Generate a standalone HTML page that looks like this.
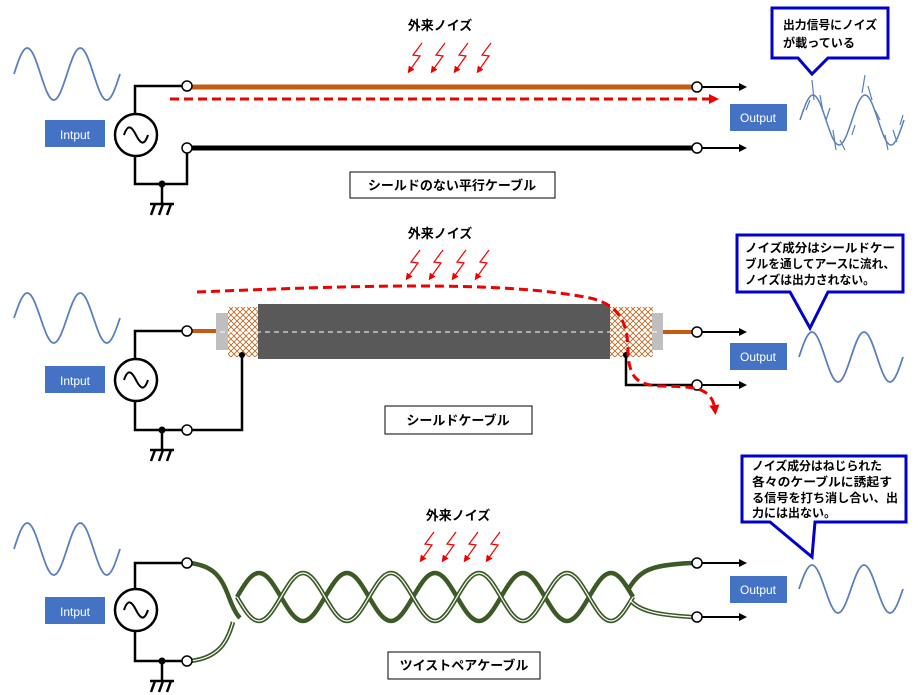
<!DOCTYPE html>
<html><head><meta charset="utf-8"><style>
body{margin:0;background:#fff;width:924px;height:695px;overflow:hidden}
svg{display:block}
text{font-family:"Liberation Sans","Noto Sans CJK JP",sans-serif}
.jp{font-size:13px;font-weight:bold;fill:#000}
.cj{font-size:12px;font-weight:bold;fill:#000}
</style></head><body>
<svg width="924" height="695" viewBox="0 0 924 695" xmlns="http://www.w3.org/2000/svg">
<defs>
<path id="sin" vector-effect="non-scaling-stroke" d="M0,0 C8.35,-26.25 16,-50 25,-50 S41.65,-26.25 50,0 S66,50 75,50 S91.65,26.25 100,0 S116,-50 125,-50 S141.65,-26.25 150,0 S166,50 175,50 S191.65,26.25 200,0"/>
<path id="sin5" vector-effect="non-scaling-stroke" d="M0,0 C8.35,-26.25 16,-50 25,-50 S41.65,-26.25 50,0 S66,50 75,50 S91.65,26.25 100,0 S116,-50 125,-50 S141.65,-26.25 150,0 S166,50 175,50 S191.65,26.25 200,0 S216,-50 225,-50 S241.65,-26.25 250,0 S266,50 275,50 S291.65,26.25 300,0 S316,-50 325,-50 S341.65,-26.25 350,0 S366,50 375,50 S391.65,26.25 400,0 S416,-50 425,-50 S441.65,-26.25 450,0"/>
<marker id="ah" markerWidth="8" markerHeight="8" refX="6" refY="4" orient="auto" markerUnits="userSpaceOnUse"><path d="M0,0 L8,4 L0,8 z" fill="#000"/></marker>
<marker id="rh" markerWidth="10" markerHeight="10" refX="5" refY="5" orient="auto" markerUnits="userSpaceOnUse"><path d="M0,0 L10,5 L0,10 z" fill="#e00"/></marker>
<marker id="bh" markerWidth="7" markerHeight="7" refX="3" refY="3.5" orient="auto" markerUnits="userSpaceOnUse"><path d="M0,0 L7,3.5 L0,7 z" fill="#e00"/></marker>
<pattern id="hatch" width="6" height="6" patternUnits="userSpaceOnUse"><rect width="6" height="6" fill="#fff"/><path d="M0,0 L6,6 M6,0 L0,6" stroke="#b5651d" stroke-width="0.8"/></pattern>
<g id="bolt"><polyline points="12,0 3,12 10,13 0,27" fill="none" stroke="#e00" stroke-width="1.2" marker-end="url(#bh)"/></g>
<g id="src">
<circle cx="136" cy="0" r="21" fill="#fff" stroke="#000" stroke-width="2.5"/>
<path d="M124,0 C128,-12 132,-8 136,0 S144,12 148,0" fill="none" stroke="#000" stroke-width="2"/>
</g>
<g id="gnd" stroke="#000" stroke-width="2.5" fill="none">
<line x1="162" y1="0" x2="162" y2="20"/>
<line x1="150" y1="20" x2="174" y2="20"/>
<line x1="155" y1="20" x2="151" y2="31"/><line x1="163" y1="20" x2="159" y2="31"/><line x1="171" y1="20" x2="167" y2="31"/>
</g>
</defs>

<!-- ========== Section 1 ========== -->
<use href="#sin" transform="translate(14,74) scale(0.53,0.52)" fill="none" stroke="#5a7fbf" stroke-width="1.8"/>
<rect x="45" y="120" width="60" height="27" fill="#4472C4"/>
<text x="75" y="139" text-anchor="middle" font-size="12" fill="#fff">Intput</text>
<path d="M135,114 V86 H182 M135,156 V184 H187 V153" fill="none" stroke="#000" stroke-width="2.5"/>
<use href="#src" transform="translate(0,135)"/>
<circle cx="162" cy="184" r="3.5" fill="#000"/>
<use href="#gnd" transform="translate(0,184)"/>
<line x1="192" y1="87" x2="692" y2="87" stroke="#C55A11" stroke-width="5"/>
<line x1="192" y1="148" x2="692" y2="148" stroke="#000" stroke-width="5"/>
<circle cx="187" cy="86" r="5" fill="#fff" stroke="#000" stroke-width="1.5"/>
<circle cx="187" cy="148" r="5" fill="#fff" stroke="#000" stroke-width="1.5"/>
<circle cx="697" cy="87" r="5" fill="#fff" stroke="#000" stroke-width="1.5"/>
<circle cx="697" cy="148" r="5" fill="#fff" stroke="#000" stroke-width="1.5"/>
<line x1="702" y1="87" x2="745" y2="87" stroke="#000" stroke-width="2" marker-end="url(#ah)"/>
<line x1="702" y1="148" x2="745" y2="148" stroke="#000" stroke-width="2" marker-end="url(#ah)"/>
<line x1="170" y1="99" x2="714" y2="99" stroke="#e00" stroke-width="3" stroke-dasharray="9,5" marker-end="url(#rh)"/>
<text x="440" y="30" text-anchor="middle" class="jp">外来ノイズ</text>
<use href="#bolt" transform="translate(410,43)"/><use href="#bolt" transform="translate(433,43)"/><use href="#bolt" transform="translate(456,43)"/><use href="#bolt" transform="translate(479,43)"/>
<rect x="350" y="172" width="205" height="26" fill="#fff" stroke="#000" stroke-width="1"/>
<text x="452" y="190" text-anchor="middle" class="jp">シールドのない平行ケーブル</text>
<rect x="730" y="104" width="57" height="27" fill="#4472C4"/>
<text x="758" y="122" text-anchor="middle" font-size="12" fill="#fff">Output</text>
<use href="#sin" transform="translate(800,120) scale(0.52,0.5)" fill="none" stroke="#5a7fbf" stroke-width="1.5"/>
<path d="M812,80 L814,100 M806,110 L810,100 M820,95 L823,112 M826,120 L830,108 M833,130 L836,150 M840,140 L845,150 M852,135 L855,125 M862,93 L865,75 M868,86 L872,100 M875,110 L880,120 M885,135 L888,150 M893,130 L897,142 M900,125 L903,115" stroke="#5a7fbf" stroke-width="1.2"/>
<path d="M772,8 H888 V58 H828 L812,74 L798,58 H772 Z" fill="#fff" stroke="#0000CC" stroke-width="3"/>
<text x="783" y="29" class="cj" textLength="94" lengthAdjust="spacingAndGlyphs">出力信号にノイズ</text>
<text x="783" y="47" class="cj" textLength="72" lengthAdjust="spacingAndGlyphs">が載っている</text>

<!-- ========== Section 2 ========== -->
<use href="#sin" transform="translate(14,318) scale(0.53,0.5)" fill="none" stroke="#5a7fbf" stroke-width="1.8"/>
<rect x="45" y="366" width="60" height="27" fill="#4472C4"/>
<text x="75" y="385" text-anchor="middle" font-size="12" fill="#fff">Intput</text>
<path d="M135,359 V331 H182 M135,401 V430 H182 M192,430 H242 V355" fill="none" stroke="#000" stroke-width="2.5"/>
<use href="#src" transform="translate(0,380)"/>
<circle cx="162" cy="430" r="3.5" fill="#000"/>
<use href="#gnd" transform="translate(0,430)"/>
<line x1="192" y1="331" x2="217" y2="331" stroke="#C55A11" stroke-width="4"/>
<rect x="216" y="313" width="12" height="37" fill="#bfbfbf"/>
<rect x="228" y="307" width="32" height="50" fill="url(#hatch)"/>
<rect x="609" y="307" width="44" height="50" fill="url(#hatch)"/>
<rect x="652" y="313" width="11" height="37" fill="#bfbfbf"/>
<rect x="258" y="304" width="352" height="55" fill="#595959"/>
<line x1="220" y1="332" x2="660" y2="332" stroke="#fff" stroke-width="1" stroke-dasharray="5,4"/>
<line x1="663" y1="332" x2="692" y2="332" stroke="#C55A11" stroke-width="4"/>
<circle cx="242" cy="355" r="3" fill="#000"/>
<circle cx="626" cy="355" r="3" fill="#000"/>
<path d="M626,355 V385 H692" fill="none" stroke="#000" stroke-width="2.5"/>
<circle cx="187" cy="331" r="5" fill="#fff" stroke="#000" stroke-width="1.5"/>
<circle cx="187" cy="430" r="5" fill="#fff" stroke="#000" stroke-width="1.5"/>
<circle cx="697" cy="332" r="5" fill="#fff" stroke="#000" stroke-width="1.5"/>
<circle cx="697" cy="385" r="5" fill="#fff" stroke="#000" stroke-width="1.5"/>
<line x1="702" y1="332" x2="745" y2="332" stroke="#000" stroke-width="2" marker-end="url(#ah)"/>
<line x1="702" y1="385" x2="745" y2="385" stroke="#000" stroke-width="2" marker-end="url(#ah)"/>
<path d="M197,292 C350,286 500,280 590,298 C625,306 628,330 628,355 C630,380 640,385 660,386 C690,387 712,385 715,410" fill="none" stroke="#e00" stroke-width="3" stroke-dasharray="9,5" marker-end="url(#rh)"/>
<text x="440" y="238" text-anchor="middle" class="jp">外来ノイズ</text>
<use href="#bolt" transform="translate(408,250)"/><use href="#bolt" transform="translate(431,250)"/><use href="#bolt" transform="translate(454,250)"/><use href="#bolt" transform="translate(477,250)"/>
<rect x="385" y="406" width="147" height="28" fill="#fff" stroke="#000" stroke-width="1"/>
<text x="458" y="425" text-anchor="middle" class="jp">シールドケーブル</text>
<rect x="730" y="343" width="57" height="27" fill="#4472C4"/>
<text x="758" y="361" text-anchor="middle" font-size="12" fill="#fff">Output</text>
<use href="#sin" transform="translate(799,357) scale(0.52,0.5)" fill="none" stroke="#5a7fbf" stroke-width="1.8"/>
<path d="M737,235 H903 V292 H828 L810,328 L790,292 H737 Z" fill="#fff" stroke="#0000CC" stroke-width="3"/>
<text x="745" y="252" class="cj" textLength="150" lengthAdjust="spacingAndGlyphs">ノイズ成分はシールドケー</text>
<text x="745" y="268" class="cj" textLength="150" lengthAdjust="spacingAndGlyphs">ブルを通してアースに流れ、</text>
<text x="745" y="284" class="cj" textLength="130" lengthAdjust="spacingAndGlyphs">ノイズは出力されない。</text>

<!-- ========== Section 3 ========== -->
<use href="#sin" transform="translate(14,549) scale(0.53,0.52)" fill="none" stroke="#5a7fbf" stroke-width="1.8"/>
<rect x="45" y="597" width="60" height="27" fill="#4472C4"/>
<text x="75" y="616" text-anchor="middle" font-size="12" fill="#fff">Intput</text>
<path d="M135,589 V563 H182 M135,631 V661 H182" fill="none" stroke="#000" stroke-width="2.5"/>
<use href="#src" transform="translate(0,610)"/>
<circle cx="162" cy="661" r="3.5" fill="#000"/>
<use href="#gnd" transform="translate(0,661)"/>
<g fill="none" stroke="#3B5A26" stroke-width="4.5">
<path d="M190,563 C215,566 222,578 230,600 C234,610 237,615 240,618"/>
<path d="M190,661 C220,658 228,640 233,622"/>
<path d="M628,590 C640,570 650,565 692,563"/>
<path d="M630,600 C640,612 660,615 692,617"/>
<use href="#sin5" transform="translate(237,597) scale(0.88,0.48)"/>
<use href="#sin5" transform="translate(237,597) scale(0.88,-0.48)"/>
</g>
<g fill="none" stroke="#fff" stroke-width="1.2">
<path d="M190,661 C220,658 228,640 233,622"/>
<path d="M630,600 C640,612 660,615 692,617"/>
<use href="#sin5" transform="translate(237,597) scale(0.88,-0.48)"/>
</g>
<circle cx="187" cy="563" r="5" fill="#fff" stroke="#000" stroke-width="1.5"/>
<circle cx="187" cy="661" r="5" fill="#fff" stroke="#000" stroke-width="1.5"/>
<circle cx="697" cy="563" r="5" fill="#fff" stroke="#000" stroke-width="1.5"/>
<circle cx="697" cy="617" r="5" fill="#fff" stroke="#000" stroke-width="1.5"/>
<line x1="702" y1="563" x2="745" y2="563" stroke="#000" stroke-width="2" marker-end="url(#ah)"/>
<line x1="702" y1="617" x2="745" y2="617" stroke="#000" stroke-width="2" marker-end="url(#ah)"/>
<text x="458" y="520" text-anchor="middle" class="jp">外来ノイズ</text>
<use href="#bolt" transform="translate(422,532)"/><use href="#bolt" transform="translate(444,532)"/><use href="#bolt" transform="translate(466,532)"/><use href="#bolt" transform="translate(488,532)"/>
<rect x="388" y="652" width="152" height="27" fill="#fff" stroke="#000" stroke-width="1"/>
<text x="464" y="670" text-anchor="middle" class="jp">ツイストペアケーブル</text>
<rect x="730" y="576" width="57" height="27" fill="#4472C4"/>
<text x="758" y="594" text-anchor="middle" font-size="12" fill="#fff">Output</text>
<use href="#sin" transform="translate(799,589) scale(0.52,0.48)" fill="none" stroke="#5a7fbf" stroke-width="1.8"/>
<path d="M742,456 H906 V522 H815 L812,557 L770,522 H742 Z" fill="#fff" stroke="#0000CC" stroke-width="3"/>
<text x="752" y="470" class="cj" textLength="130" lengthAdjust="spacingAndGlyphs">ノイズ成分はねじられた</text>
<text x="752" y="486" class="cj" textLength="140" lengthAdjust="spacingAndGlyphs">各々のケーブルに誘起す</text>
<text x="752" y="502" class="cj" textLength="146" lengthAdjust="spacingAndGlyphs">る信号を打ち消し合い、出</text>
<text x="752" y="517" class="cj" textLength="84" lengthAdjust="spacingAndGlyphs">力には出ない。</text>
</svg>
</body></html>
